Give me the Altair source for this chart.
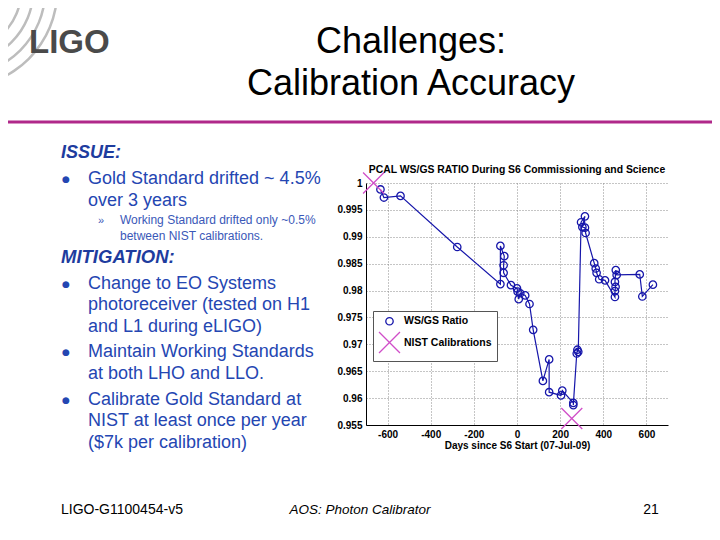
import math
import altair as alt
import pandas as pd

# ---------------- data ----------------
days = [-633, -617, -540, -277, -77, -77, -59, -62, -62, -28, 0, 3, 8, 15, 38, 58,
        75, 120, 149, 149, 204, 210, 261, 261, 277, 280, 284, 297, 315, 303, 315, 318,
        358, 365, 369, 381, 408, 454, 454, 457, 454, 458, 462, 569, 581, 630]
ratio = [0.9988, 0.9973, 0.9976, 0.9881, 0.9812, 0.9883, 0.9864, 0.9847, 0.9833,
         0.9810, 0.9804, 0.9798, 0.9784, 0.9795, 0.9791, 0.9775, 0.9727, 0.9632,
         0.9672, 0.9611, 0.9605, 0.9614, 0.9591, 0.9587, 0.9683, 0.9690, 0.9686,
         0.9927, 0.9938, 0.9918, 0.9917, 0.9907, 0.9851, 0.9841, 0.9833, 0.9821,
         0.9819, 0.9788, 0.9799, 0.9807, 0.9816, 0.9838, 0.9829, 0.9830, 0.9789,
         0.9811]
nist_days = [-665, 254]
nist_ratio = [1.0, 0.9562]
series_names = ["WS/GS Ratio", "NIST Calibrations"]

x_ticks = [-600, -400, -200, 0, 200, 400, 600]
y_ticks = [0.955, 0.96, 0.965, 0.97, 0.975, 0.98, 0.985, 0.99, 0.995, 1.0]

plot_title = "PCAL WS/GS RATIO During S6 Commissioning and Science"
x_title = "Days since S6 Start (07-Jul-09)"

slide_title = ["Challenges:", "Calibration Accuracy"]
issue_head = "ISSUE:"
issue_lines = ["Gold Standard drifted ~ 4.5%", "over 3 years"]
issue_sub = ["Working Standard drifted only ~0.5%", "between NIST calibrations."]
mitig_head = "MITIGATION:"
mitig_lines = ["Change to EO Systems", "photoreceiver (tested on H1", "and L1 during eLIGO)",
               "Maintain Working Standards", "at both LHO and LLO.",
               "Calibrate Gold Standard at", "NIST at least once per year",
               "($7k per calibration)"]
footer = ["LIGO-G1100454-v5", "AOS: Photon Calibrator", "21"]

# ---------------- layout / style ----------------
OX, OY = 366, 183          # page position of plot-area origin
W, H = 302, 242
FONT = "Liberation Sans"
BLUE = "#1616aa"
PINK = "#d04ec8"
TXT_BLUE = "#2446b2"
HEAD_BLUE = "#1e3c9e"
SUB_BLUE = "#3a58b8"
XPATH = "M-1,-1L1,1M1,-1L-1,1"

one = pd.DataFrame({"t": ["x"]})


def txt(s, px, py, size, color="black", weight="normal", style="normal", align="left",
        font=FONT):
    return alt.Chart(pd.DataFrame({"t": [s]})).mark_text(
        font=font, fontSize=size, color=color, fontWeight=weight, fontStyle=style,
        align=align, baseline="middle"
    ).encode(text="t:N", x=alt.value(px - OX), y=alt.value(py - OY))


layers = []

# logo arcs
for r in [60, 72, 84, 96]:
    layers.append(alt.Chart(one).mark_arc(color="#bdbdbd").encode(
        x=alt.value(-40 - OX), y=alt.value(-10 - OY),
        radius=alt.value(r), radius2=alt.value(r + 2.5),
        theta=alt.value(math.pi / 2), theta2=alt.value(math.pi)))

layers.append(txt("LIGO", 29, 43, 33, color="#4a4a4a", weight="bold"))
layers.append(txt(slide_title[0], 411, 42, 36, align="center"))
layers.append(txt(slide_title[1], 411, 84, 36, align="center"))

layers.append(alt.Chart(one).mark_rule(color="#b0288a", strokeWidth=3).encode(
    x=alt.value(-OX), x2=alt.value(720 - OX), y=alt.value(122 - OY)))

# left text
layers.append(txt(issue_head, 61, 153, 18, HEAD_BLUE, "bold", "italic"))
for s, yy in zip(issue_lines, [179, 201]):
    layers.append(txt(s, 88, yy, 18, TXT_BLUE))
layers.append(txt("»", 101, 221, 11, SUB_BLUE, align="center"))
for s, yy in zip(issue_sub, [220, 236]):
    layers.append(txt(s, 120, yy, 12, SUB_BLUE))
layers.append(txt(mitig_head, 61, 257, 18.5, HEAD_BLUE, "bold", "italic"))
for yy in [179, 284, 352, 400]:
    layers.append(txt("●", 66, yy, 9, TXT_BLUE, align="center", font="DejaVu Sans"))
for s, yy in zip(mitig_lines, [284, 305, 327, 352, 374, 400, 421, 443]):
    layers.append(txt(s, 88, yy, 18, TXT_BLUE))

# footer
layers.append(txt(footer[0], 61, 510, 14))
layers.append(txt(footer[1], 360, 510, 13.5, style="italic", align="center"))
layers.append(txt(footer[2], 651, 510, 14, align="center"))

# plot title
layers.append(txt(plot_title, 517, 170, 10.4, weight="bold", align="center"))

# ---------------- data layers ----------------
ws = pd.DataFrame({"day": days, "ratio": ratio, "idx": list(range(len(days))),
                   "series": series_names[0]})
ni = pd.DataFrame({"day": nist_days, "ratio": nist_ratio, "idx": [0, 1],
                   "series": series_names[1]})
pts = pd.concat([ws, ni], ignore_index=True)

xscale = alt.Scale(domain=[-700, 700], nice=False, zero=False)
yscale = alt.Scale(domain=[0.955, 1.0], nice=False, zero=False)

x_axis = alt.Axis(values=x_ticks, title=x_title, labelOverlap=False,
                  labelExpr="(datum.value < 0 ? '-' : '') + abs(datum.value)")
y_axis = alt.Axis(values=y_ticks, title=None, labelOverlap=False,
                  labelExpr="format(datum.value, '.3~f')")

line = alt.Chart(ws).mark_line(color=BLUE, strokeWidth=1.2).encode(
    x=alt.X("day:Q", scale=xscale, axis=x_axis),
    y=alt.Y("ratio:Q", scale=yscale, axis=y_axis),
    order="idx:Q")

points = alt.Chart(pts).mark_point(filled=False, strokeWidth=1.3, opacity=1).encode(
    x=alt.X("day:Q", scale=xscale, axis=x_axis),
    y=alt.Y("ratio:Q", scale=yscale, axis=y_axis),
    color=alt.Color("series:N", scale=alt.Scale(domain=series_names, range=[BLUE, PINK]),
                    legend=alt.Legend(title=None, orient="none", legendX=7, legendY=128,
                                      fillColor="white", strokeColor="#555", padding=5,
                                      labelFont=FONT, labelFontWeight="bold",
                                      labelFontSize=10.5, labelColor="black",
                                      rowPadding=1, symbolStrokeWidth=1.3,
                                      labelOffset=3)),
    shape=alt.Shape("series:N", scale=alt.Scale(domain=series_names, range=["circle", XPATH])),
    size=alt.Size("series:N", scale=alt.Scale(domain=series_names, range=[55, 440])))

layers += [line, points]

chart = alt.layer(*layers).properties(
    width=W, height=H,
    autosize=alt.AutoSizeParams(type="none"),
    padding={"left": OX - 8, "top": OY - 8, "right": 704 - (OX - 8) - W,
             "bottom": 524 - (OY - 8) - H},
    background="white",
).configure_view(stroke=None).configure_axis(
    labelFont=FONT, labelFontWeight="bold", labelFontSize=10, labelColor="black",
    titleFont=FONT, titleFontWeight="bold", titleFontSize=10, titleColor="black",
    domainColor="black", domainWidth=1, ticks=False, labelOverlap=False,
    gridColor="#8a8a8a", gridDash=[1, 2], gridOpacity=1, gridWidth=1,
    labelPadding=4, titlePadding=1,
)

chart.save("out.html", embed_options={"renderer": "svg", "actions": False})
